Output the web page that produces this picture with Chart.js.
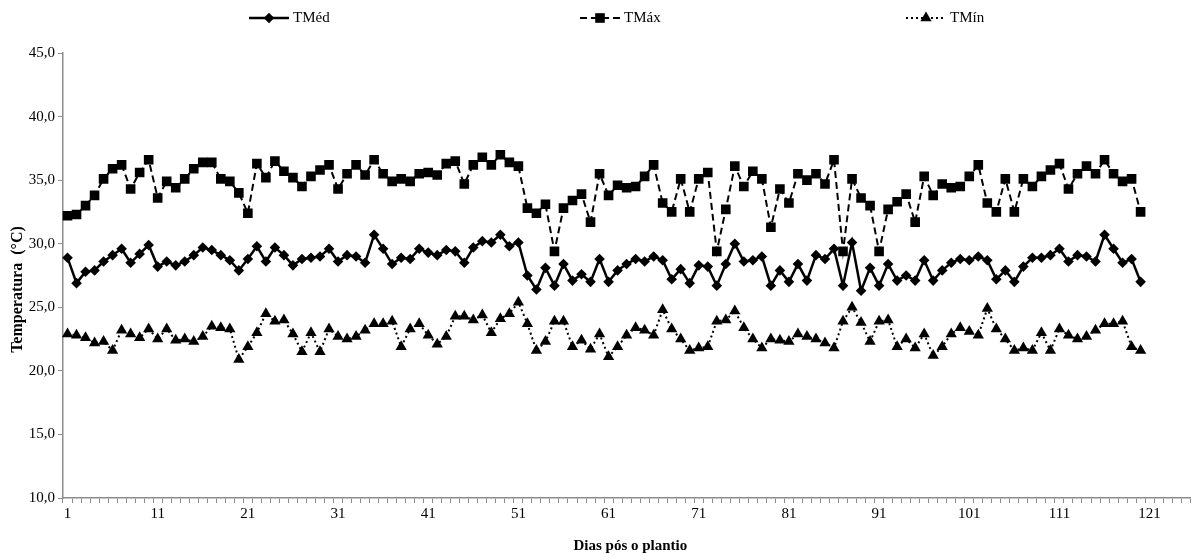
<!DOCTYPE html>
<html>
<head>
<meta charset="utf-8">
<script src="https://cdn.jsdelivr.net/npm/chart.js@4"></script>
<style>
  body { margin: 0; background: #fff; }
</style>
</head>
<body>
<canvas id="grafico" width="1197" height="560"></canvas>
<script>
// dias 1..125 no eixo (os dados vão até o dia 120)
const dias = Array.from({ length: 125 }, (_, i) => i + 1);

const tMed = [
  28.9, 26.9, 27.8, 27.9, 28.6, 29.1, 29.6, 28.5, 29.2, 29.9,
  28.2, 28.6, 28.3, 28.6, 29.1, 29.7, 29.5, 29.1, 28.7, 27.9,
  28.8, 29.8, 28.6, 29.7, 29.1, 28.3, 28.8, 28.9, 29.0, 29.6,
  28.6, 29.1, 29.0, 28.5, 30.7, 29.6, 28.4, 28.9, 28.8, 29.6,
  29.3, 29.1, 29.5, 29.4, 28.5, 29.7, 30.2, 30.1, 30.7, 29.8,
  30.1, 27.5, 26.4, 28.1, 26.7, 28.4, 27.1, 27.6, 27.0, 28.8,
  27.0, 27.9, 28.4, 28.8, 28.6, 29.0, 28.7, 27.2, 28.0, 26.9,
  28.3, 28.2, 26.7, 28.4, 30.0, 28.6, 28.7, 29.0, 26.7, 27.9,
  27.0, 28.4, 27.1, 29.1, 28.8, 29.6, 26.7, 30.1, 26.3, 28.1,
  26.7, 28.4, 27.1, 27.5, 27.1, 28.7, 27.1, 27.9, 28.5, 28.8,
  28.7, 29.0, 28.7, 27.2, 27.9, 27.0, 28.2, 28.9, 28.9, 29.1,
  29.6, 28.6, 29.1, 29.0, 28.6, 30.7, 29.6, 28.5, 28.8, 27.0
];

const tMax = [
  32.2, 32.3, 33.0, 33.8, 35.1, 35.9, 36.2, 34.3, 35.6, 36.6,
  33.6, 34.9, 34.4, 35.1, 35.9, 36.4, 36.4, 35.1, 34.9, 34.0,
  32.4, 36.3, 35.2, 36.5, 35.7, 35.2, 34.5, 35.3, 35.8, 36.2,
  34.3, 35.5, 36.2, 35.4, 36.6, 35.5, 34.9, 35.1, 34.9, 35.5,
  35.6, 35.4, 36.3, 36.5, 34.7, 36.2, 36.8, 36.2, 37.0, 36.4,
  36.1, 32.8, 32.4, 33.1, 29.4, 32.8, 33.4, 33.9, 31.7, 35.5,
  33.8, 34.6, 34.4, 34.5, 35.3, 36.2, 33.2, 32.5, 35.1, 32.5,
  35.1, 35.6, 29.4, 32.7, 36.1, 34.5, 35.7, 35.1, 31.3, 34.3,
  33.2, 35.5, 35.0, 35.5, 34.7, 36.6, 29.4, 35.1, 33.6, 33.0,
  29.4, 32.7, 33.3, 33.9, 31.7, 35.3, 33.8, 34.7, 34.4, 34.5,
  35.3, 36.2, 33.2, 32.5, 35.1, 32.5, 35.1, 34.5, 35.3, 35.8,
  36.3, 34.3, 35.5, 36.1, 35.5, 36.6, 35.5, 34.9, 35.1, 32.5
];

const tMin = [
  22.9, 22.8, 22.6, 22.2, 22.3, 21.6, 23.2, 22.9, 22.6, 23.3,
  22.5, 23.3, 22.4, 22.5, 22.3, 22.7, 23.5, 23.4, 23.3, 20.9,
  21.9, 23.0, 24.5, 23.9, 24.0, 22.9, 21.5, 23.0, 21.5, 23.3,
  22.7, 22.5, 22.7, 23.2, 23.7, 23.7, 23.9, 21.9, 23.3, 23.7,
  22.8, 22.1, 22.7, 24.3, 24.3, 24.0, 24.4, 23.0, 24.1, 24.5,
  25.4, 23.7, 21.6, 22.3, 23.9, 23.9, 21.9, 22.4, 21.7, 22.9,
  21.1, 21.9, 22.8, 23.4, 23.2, 22.8, 24.8, 23.3, 22.5, 21.6,
  21.8, 21.9, 23.9, 24.0, 24.7, 23.4, 22.5, 21.8, 22.5, 22.4,
  22.3, 22.9, 22.7, 22.5, 22.2, 21.8, 23.9, 25.0, 23.8, 22.3,
  23.9, 24.0, 21.9, 22.5, 21.8, 22.9, 21.2, 21.9, 22.9, 23.4,
  23.1, 22.8, 24.9, 23.3, 22.5, 21.6, 21.8, 21.6, 23.0, 21.6,
  23.3, 22.8, 22.5, 22.7, 23.2, 23.7, 23.7, 23.9, 21.9, 21.6
];

const fonte = 'Liberation Serif';
const cinza = '#8c8c8c';

// legenda no topo, com o traço da série e o marcador
const legendaX = [249, 580, 906];
const legendaTopo = {
  id: 'legendaTopo',
  afterDraw(chart) {
    const c = chart.ctx;
    const y = 18;
    chart.data.datasets.forEach((ds, i) => {
      const x0 = legendaX[i];
      c.save();
      c.strokeStyle = '#000';
      c.lineWidth = ds.borderWidth;
      c.setLineDash(ds.borderDash || []);
      c.beginPath();
      c.moveTo(x0, y);
      c.lineTo(x0 + 40, y);
      c.stroke();
      c.setLineDash([]);
      c.fillStyle = '#000';
      Chart.helpers.drawPoint(c, { pointStyle: ds.pointStyle, radius: ds.pointRadius, borderWidth: 0, rotation: 0 }, x0 + 20, y);
      c.font = '15px "' + fonte + '"';
      c.textBaseline = 'middle';
      c.fillText(ds.label, x0 + 44, y);
      c.restore();
    });
  }
};

const ctx = document.getElementById('grafico');
new Chart(ctx, {
  type: 'line',
  data: {
    labels: dias,
    datasets: [
      {
        label: 'TMéd',
        data: tMed,
        borderColor: '#000',
        backgroundColor: '#000',
        borderWidth: 2.5,
        pointStyle: 'rectRot',
        pointRadius: 5.3,
        pointBorderWidth: 0,
        tension: 0
      },
      {
        label: 'TMáx',
        data: tMax,
        borderColor: '#000',
        backgroundColor: '#000',
        borderWidth: 2,
        borderDash: [7, 4],
        pointStyle: 'rect',
        pointRadius: 6.8,
        pointBorderWidth: 0,
        tension: 0
      },
      {
        label: 'TMín',
        data: tMin,
        borderColor: '#000',
        backgroundColor: '#000',
        borderWidth: 2,
        borderDash: [2, 3],
        pointStyle: 'triangle',
        pointRadius: 6.5,
        pointBorderWidth: 0,
        tension: 0
      }
    ]
  },
  options: {
    responsive: false,
    animation: false,
    layout: { padding: { top: 53, right: 2 } },
    plugins: {
      legend: { display: false },
      tooltip: { enabled: false }
    },
    scales: {
      x: {
        type: 'category',
        offset: true,
        grid: { offset: true, drawOnChartArea: false, tickLength: 5, color: cinza },
        border: { color: cinza, width: 1.5 },
        ticks: {
          autoSkip: false,
          maxRotation: 0,
          padding: 2,
          color: '#000',
          font: { family: fonte, size: 15 },
          callback: function (v, i) { return i % 10 === 0 ? this.getLabelForValue(v) : ''; }
        },
        title: {
          display: true,
          text: '  Dias pós o plantio',
          color: '#000',
          font: { family: fonte, size: 15, weight: 'bold' },
          padding: { bottom: 5 }
        },
        afterFit: s => { s.height = 62; }
      },
      y: {
        min: 10,
        max: 45,
        grid: { drawOnChartArea: false, tickLength: 5, color: cinza },
        border: { color: cinza, width: 1.5 },
        ticks: {
          stepSize: 5,
          padding: 3,
          color: '#000',
          font: { family: fonte, size: 15 },
          callback: v => v.toFixed(1).replace('.', ',')
        },
        title: {
          display: true,
          text: 'Temperatura  (°C)       ',
          color: '#000',
          font: { family: fonte, size: 16, weight: 'bold' },
          padding: { top: 8 }
        },
        afterFit: s => { s.width = 63; }
      }
    }
  },
  plugins: [legendaTopo]
});
</script>
</body>
</html>
